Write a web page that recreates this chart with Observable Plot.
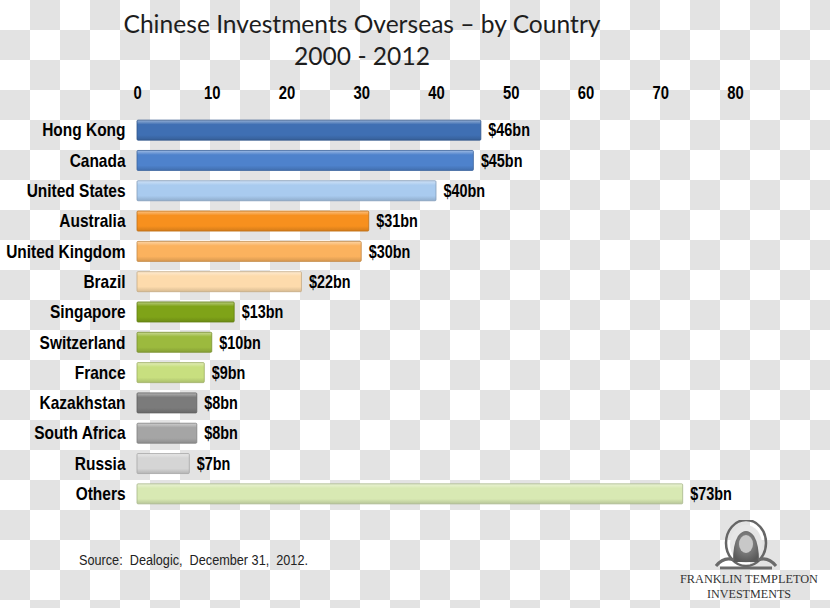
<!DOCTYPE html>
<html>
<head>
<meta charset="utf-8">
<script src="https://cdn.jsdelivr.net/npm/d3@7"></script>
<script src="https://cdn.jsdelivr.net/npm/@observablehq/plot@0.6"></script>
<style>
  html, body { margin: 0; padding: 0; }
  body {
    width: 830px; height: 608px; overflow: hidden; position: relative;
    background-color: #ffffff;
    background-image: conic-gradient(#e3e3e3 25%, transparent 0 50%, #e3e3e3 0 75%, transparent 0);
    background-size: 60px 60px;
  }
  #title {
    position: absolute; left: 0; top: 8px; width: 724px; text-align: center;
    font-family: Lato, "Open Sans", sans-serif; font-size: 24.6px; line-height: 32px; color: #1e1e1e;
  }
  #chart { position: absolute; left: 0; top: 75px; }
  #footer { position: absolute; left: 0; top: 520px; }
</style>
</head>
<body>
<div id="title">Chinese Investments Overseas – by Country<br>2000 - 2012</div>
<div id="chart"></div>
<svg id="footer" width="830" height="88">
  <defs>
    <radialGradient id="portrait" cx="50%" cy="40%" r="60%">
      <stop offset="0%" stop-color="#9a9a9a"/>
      <stop offset="100%" stop-color="#5a5a5a"/>
    </radialGradient>
  </defs>
  <text x="79" y="45" textLength="229" lengthAdjust="spacingAndGlyphs"
        font-family="'Liberation Sans', Arial, sans-serif" font-size="14" fill="#222" xml:space="preserve">Source:  Dealogic,  December 31,  2012.</text>
  <ellipse cx="746" cy="23" rx="20" ry="23" fill="none" stroke="#666" stroke-width="2.5"/>
  <ellipse cx="746" cy="24" rx="16" ry="19" fill="#e6e6e6"/>
  <path d="M733 42 Q733 24 738 16 Q746 6 754 16 Q759 24 759 42 Z" fill="url(#portrait)"/>
  <ellipse cx="746" cy="24" rx="7" ry="9" fill="#c8c8c8"/>
  <path d="M716 46 Q724 36 734 40 M776 46 Q768 36 758 40 M720 48 L772 48" fill="none" stroke="#6a6a6a" stroke-width="3"/>
  <text x="749" y="63" text-anchor="middle" textLength="138" lengthAdjust="spacingAndGlyphs"
        font-family="'Liberation Serif', 'DejaVu Serif', serif" font-size="13" fill="#333">FRANKLIN TEMPLETON</text>
  <text x="749" y="78" text-anchor="middle" textLength="84" lengthAdjust="spacingAndGlyphs"
        font-family="'Liberation Serif', 'DejaVu Serif', serif" font-size="13" fill="#333">INVESTMENTS</text>
</svg>
<script>
const countries = ["Hong Kong","Canada","United States","Australia","United Kingdom","Brazil","Singapore","Switzerland","France","Kazakhstan","South Africa","Russia","Others"];
const values = [46,45,40,31,30,22,13,10,9,8,8,7,73];
const colors = ["#3f6fb3","#4e82cc","#a9cbef","#f7901e","#fbb25e","#fddbac","#7fa318","#9cba3e","#c8df7f","#7b7b7b","#a5a5a5","#d5d5d5","#d8e9b3"];
const xTicks = [0,10,20,30,40,50,60,70,80];

const data = countries.map((c, i) => ({country: c, value: values[i], grad: `url(#g${i})`, label: `$${values[i]}bn`}));

const font = "'Liberation Sans', Arial, sans-serif";

const plot = Plot.plot({
  width: 830,
  height: 445,
  marginLeft: 137,
  marginRight: 95,
  marginTop: 40,
  marginBottom: 11,
  style: {background: "transparent", fontFamily: font, color: "#000"},
  x: {domain: [0, 80], ticks: xTicks},
  y: {domain: countries, padding: 0.34, paddingOuter: 0.17, round: false},
  color: {type: "identity"},
  marks: [
    Plot.axisX({anchor: "top", ticks: xTicks, tickSize: 0, tickPadding: 17, label: null,
      fontSize: 19, fontWeight: "bold", fill: "#000", className: "xax"}),
    Plot.axisY({anchor: "left", tickSize: 0, tickPadding: 12, label: null,
      fontSize: 18, fontWeight: "bold", fill: "#000", className: "yax"}),
    Plot.barX(data, {y: "country", x: "value", fill: "grad", stroke: (d, i) => d3.color(colors[i]).darker(0.7).formatHex(), strokeWidth: 1, strokeOpacity: 0.8, rx: 1}),
    Plot.ruleX([0], {stroke: "#b5b5b5", strokeWidth: 1.5, y1: countries[0], y2: countries[countries.length - 1], insetTop: -16, insetBottom: -17}),
    Plot.text(data, {y: "country", x: "value", text: "label", textAnchor: "start", dx: 7,
      fontSize: 18, fontWeight: "bold", fill: "#000", className: "vals"})
  ]
});

// gradients for a bevelled bar look
const svg = d3.select(plot);
const defs = svg.insert("defs", ":first-child");
colors.forEach((c, i) => {
  const base = d3.color(c);
  const light = d3.interpolateRgb(c, "#ffffff")(0.45);
  const dark = base.darker(0.45).formatHex();
  const g = defs.append("linearGradient").attr("id", `g${i}`).attr("x1", 0).attr("y1", 0).attr("x2", 0).attr("y2", 1);
  g.append("stop").attr("offset", "0%").attr("stop-color", light);
  g.append("stop").attr("offset", "22%").attr("stop-color", c);
  g.append("stop").attr("offset", "75%").attr("stop-color", c);
  g.append("stop").attr("offset", "100%").attr("stop-color", dark);
});

// condense the bold labels horizontally (narrow-font look)
function condense(sel, s) {
  sel.each(function () {
    const t = this;
    const tr = t.getAttribute("transform");
    if (tr) {
      t.setAttribute("transform", tr + ` scale(${s},1)`);
    } else {
      const x = +(t.getAttribute("x") || 0), y = +(t.getAttribute("y") || 0);
      t.removeAttribute("x"); t.removeAttribute("y");
      t.setAttribute("transform", `translate(${x},${y}) scale(${s},1)`);
    }
  });
}
condense(svg.selectAll(".xax text"), 0.78);
condense(svg.selectAll(".yax text"), 0.86);
condense(svg.selectAll(".vals text"), 0.8);

document.getElementById("chart").appendChild(plot);
</script>
</body>
</html>
